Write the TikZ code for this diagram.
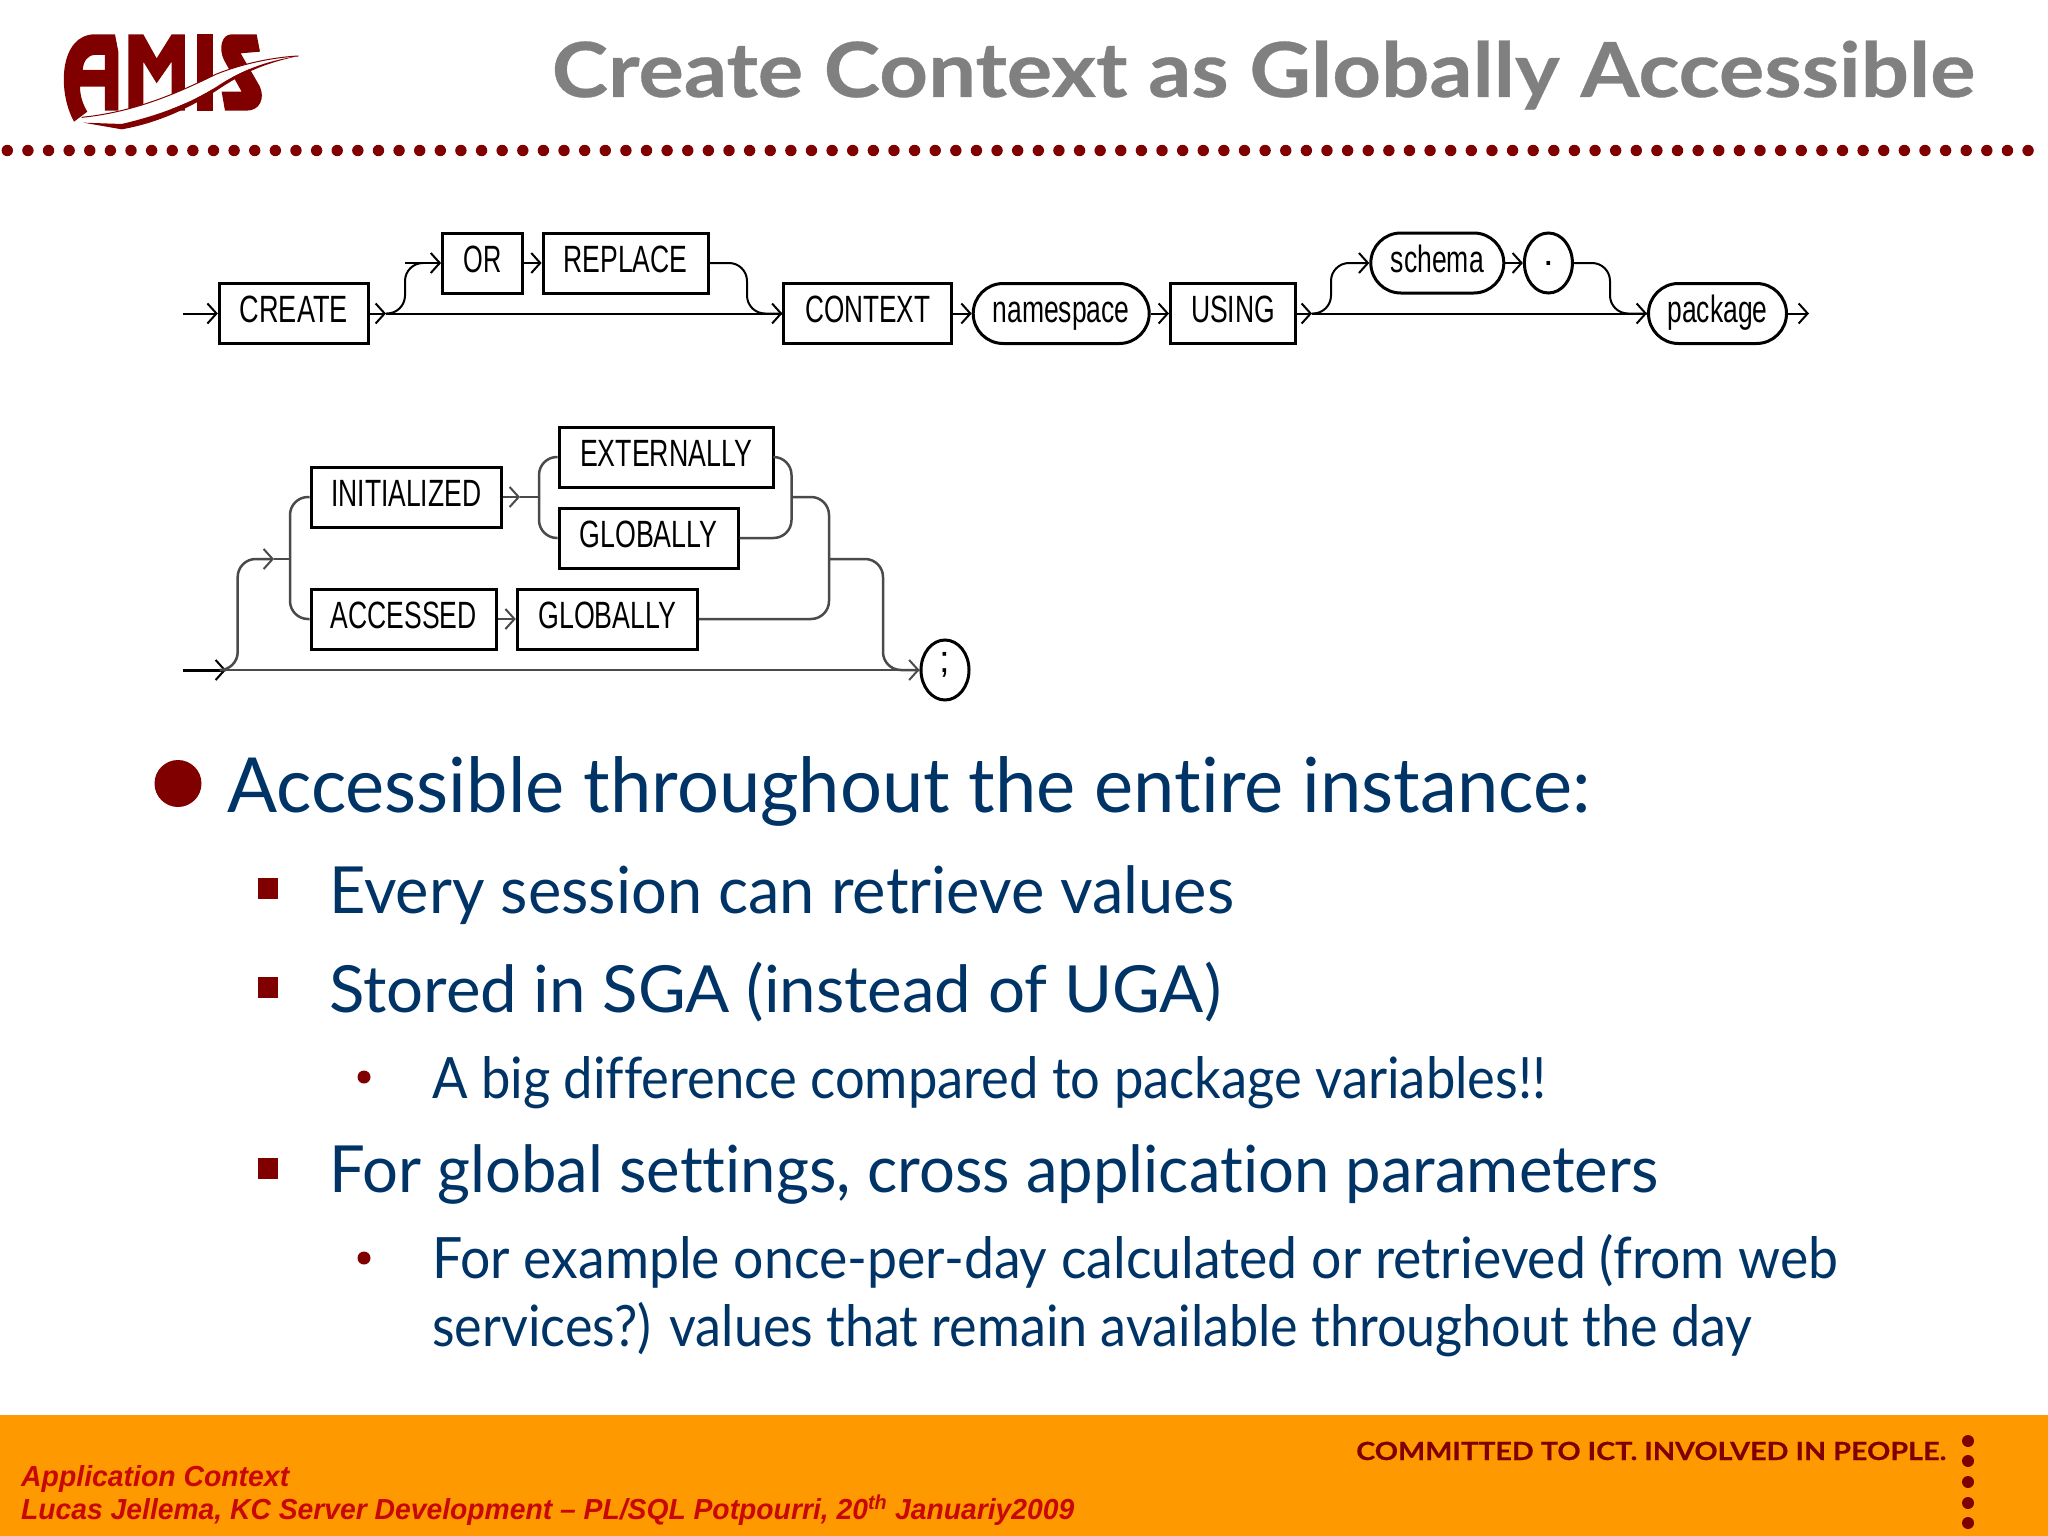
\documentclass[tikz,border=0pt]{standalone}
\usepackage{fontspec}
\usepackage{graphicx}
\usetikzlibrary{arrows.meta,shapes.misc,shapes.geometric}
\setmainfont{Lato}[Ligatures=NoCommon,BoldFeatures={FakeBold=0.4}]
\newfontfamily\diagfont{Liberation Sans}
\newfontfamily\footfont{Liberation Sans}
\definecolor{darkred}{HTML}{800000}
\definecolor{navy}{HTML}{003366}
\definecolor{titlegray}{HTML}{808080}
\definecolor{orangebar}{HTML}{FF9900}
\definecolor{footred}{HTML}{C80808}
\definecolor{rowtwo}{HTML}{4A4A4A}
\newcommand{\fitw}[2]{\resizebox{#1pt}{\height}{#2}}
\tikzset{
  x=1pt,y=-1pt,
  kw/.style={draw=black,line width=3pt,fill=white,inner sep=0pt,minimum height=60pt,font=\diagfont\fontsize{38}{38}\selectfont,text height=28pt,text depth=10pt,align=center},
  var/.style={kw,rounded rectangle},
  lit/.style={kw,ellipse,minimum width=48pt,text height=14pt,text depth=10pt},
  conn/.style={draw=black,line width=2pt,rounded corners=18pt},
  arr/.style={conn,-{Straight Barb[length=9pt,width=20pt,line width=2pt]}},
  conn2/.style={conn,draw=rowtwo,line width=2.5pt},
  arr2/.style={arr,draw=rowtwo,line width=2.5pt},
  lone/.style={anchor=base west,inner sep=0pt,text=navy,font=\fontsize{76}{76}\selectfont},
  ltwo/.style={anchor=base west,inner sep=0pt,text=navy,font=\fontsize{65}{65}\selectfont},
  lthree/.style={anchor=base west,inner sep=0pt,text=navy,font=\fontsize{57}{57}\selectfont},
}
\begin{document}
\begin{tikzpicture}
\useasboundingbox (0,0) rectangle (2048,1536);
\fill[white] (0,0) rectangle (2048,1536);
% logo
\begin{scope}[x=0.3333pt,y=-0.3333pt]
\fill[darkred,even odd rule] (222,365) .. controls (170,270) and (180,103) .. (285,103) -- (345,103) -- (355,155) -- (355,332) -- (315,332) -- (315,260) -- (240,260) .. controls (240,290) and (250,315) .. (262,335) -- cycle
 (248,210) -- (315,210) -- (315,165) -- (285,165) .. controls (262,165) and (250,185) .. (248,210) -- cycle;
\fill[darkred] (385,103) -- (430,103) -- (470,175) -- (515,103) -- (555,103) -- (555,332) -- (515,332) -- (515,185) -- (470,250) -- (430,185) -- (430,332) -- (385,332) -- cycle;
\fill[darkred] (590,103) rectangle (640,332);
\fill[darkred] (695,103) -- (770,103) -- (780,155) -- (722,160) -- (780,260) .. controls (795,295) and (780,332) .. (740,332) -- (675,332) -- (665,275) -- (725,275) -- (672,180) .. controls (655,145) and (665,103) .. (695,103) -- cycle;
\fill[white] (245,352) .. controls (420,335) and (560,265) .. (650,222) .. controls (730,190) and (820,172) .. (895,168) .. controls (820,180) and (740,200) .. (650,260) .. controls (570,310) and (480,345) .. (365,372) -- (250,368) -- cycle;
\fill[darkred] (250,368) -- (365,372) .. controls (480,345) and (570,310) .. (650,260) .. controls (740,200) and (820,180) .. (895,168) .. controls (820,185) and (750,205) .. (660,265) .. controls (570,325) and (470,370) .. (365,388) -- cycle;
\draw[darkred,line width=1pt] (245,352) .. controls (420,335) and (560,265) .. (650,222) .. controls (730,190) and (820,172) .. (895,168);
\end{scope}
% title
\node[anchor=base east,inner sep=0pt,text=titlegray,font=\bfseries\fontsize{76}{76}\selectfont] (title) at (1975,97) {\fitw{1423}{Create Context as Globally Accessible}};
% dotted rule
\foreach \k in {0,...,98} \fill[darkred] (7.3+20.62*\k,150.5) circle (5.7);
% diagram row 1
\node[kw,minimum width=149pt] (create) at (293.8,313.5) {\fitw{108}{CREATE}};
\node[kw,minimum width=80pt] (or) at (482.6,263) {\fitw{38}{OR}};
\node[kw,minimum width=165pt] (replace) at (625.6,263) {\fitw{124}{REPLACE}};
\node[kw,minimum width=168pt] (context) at (867.9,313.5) {\fitw{125}{CONTEXT}};
\node[var,minimum width=176pt] (namespace) at (1061.2,313.5) {\fitw{137}{namespace}};
\node[kw,minimum width=125pt] (using) at (1233,313.5) {\fitw{84}{USING}};
\node[var,minimum width=133pt] (schema) at (1437.3,263) {\fitw{93}{schema}};
\node[lit] (dot) at (1548.4,263) {.};
\node[var,minimum width=138pt] (package) at (1717.5,313.5) {\fitw{100}{package}};
\coordinate (s1) at (183,313.5);
\coordinate (e1) at (1809,313.5);
\coordinate (j1) at (386,313.5);
\coordinate (j3) at (1312,313.5);
\draw[arr] (s1) -- (create.west);
\draw[arr] (create.east) -- (j1);
\draw[arr] (j1) -- (context.west);
\draw[conn] (j1) -- (405,313.5) -- (405,263) -- (420,263);
\draw[arr] (405,263) -- (or.west);
\draw[arr] (or.east) -- (replace.west);
\draw[conn] (replace.east) -- (747,263) -- (747,313.5) -- (context.west);
\draw[arr] (context.east) -- (namespace.west);
\draw[arr] (namespace.east) -- (using.west);
\draw[arr] (using.east) -- (j3);
\draw[arr] (j3) -- (package.west);
\draw[arr] (j3) -- (1331,313.5) -- (1331,263) -- (schema.west);
\draw[arr] (schema.east) -- (dot.west);
\draw[conn] (dot.east) -- (1610,263) -- (1610,313.5) -- (package.west);
\draw[arr] (package.east) -- (e1);
% diagram row 2
\node[kw,minimum width=190pt] (init) at (406.2,497) {\fitw{150}{INITIALIZED}};
\node[kw,minimum width=214pt] (ext) at (666,457) {\fitw{172}{EXTERNALLY}};
\node[kw,minimum width=179pt] (globa) at (648.5,538) {\fitw{138}{GLOBALLY}};
\node[kw,minimum width=185pt] (acc) at (403.6,619) {\fitw{146}{ACCESSED}};
\node[kw,minimum width=180pt] (globb) at (607.3,619) {\fitw{138}{GLOBALLY}};
\node[lit] (semi) at (945,670) {;};
\coordinate (s2) at (183,670);
\coordinate (j5) at (226,670);
\coordinate (j6) at (290,559);
\coordinate (j7) at (520,497);
\coordinate (j8) at (539,497);
\coordinate (j9) at (791.5,497);
\coordinate (j10) at (829,559);
\draw[arr2,draw=black,line width=3pt] (s2) -- (j5);
\draw[arr2] (j5) -- (semi.west);
\draw[arr2] (j5) -- (237.7,670) -- (237.7,559) -- (274,559);
\draw[conn2] (274,559) -- (j6);
\draw[conn2] (init.west) -- (290,497) -- (290,619) -- (acc.west);
\draw[arr2] (init.east) -- (j7);
\draw[conn2] (j7) -- (j8);
\draw[conn2] (ext.west) -- (539,457) -- (539,538) -- (globa.west);
\draw[conn2] (ext.east) -- (791.5,457) -- (791.5,538) -- (globa.east);
\draw[conn2] (j9) -- (829,497) -- (829,559);
\draw[conn2] (globb.east) -- (829,619) -- (829,559);
\draw[arr2] (acc.east) -- (globb.west);
\draw[conn2] (j10) -- (883,559) -- (883,670) -- (semi.west);
% body text
\fill[darkred] (178,783.5) circle (23.5);
\node[lone] (t1) at (227,812) {\fitw{1363}{Accessible throughout the entire instance:}};
\fill[darkred] (257.5,878) rectangle ++(20,21);
\node[ltwo] (t2) at (329,913) {\fitw{905}{Every session can retrieve values}};
\fill[darkred] (257.5,977) rectangle ++(20,21);
\node[ltwo] (t3) at (329,1012) {\fitw{892}{Stored in SGA (instead of UGA)}};
\fill[darkred] (364,1077) circle (6.5);
\node[lthree] (t4) at (432,1098) {\fitw{1114}{A big difference compared to package variables!!}};
\fill[darkred] (257.5,1158) rectangle ++(20,21);
\node[ltwo] (t5) at (329,1192.5) {\fitw{1329}{For global settings, cross application parameters}};
\fill[darkred] (364,1258) circle (6.5);
\node[lthree] (t6) at (432,1278) {\fitw{1406}{For example once-per-day calculated or retrieved (from web}};
\node[lthree] (t7) at (432,1346) {\fitw{1320}{services?) values that remain available throughout the day}};
% footer
\fill[orangebar] (0,1415) rectangle (2048,1536);
\node[anchor=base west,inner sep=0pt,text=darkred,font=\bfseries\fontsize{25}{25}\selectfont] (slogan) at (1356,1460) {\fitw{590}{COMMITTED TO ICT. INVOLVED IN PEOPLE.}};
\foreach \yy in {1441,1461,1482,1503,1523} \fill[darkred] (1968,\yy) circle (6);
\node[anchor=base west,inner sep=0pt,text=footred,font=\footfont\bfseries\itshape\fontsize{29}{29}\selectfont] (fa) at (21,1486) {\fitw{268}{Application Context}};
\node[anchor=base west,inner sep=0pt,text=footred,font=\footfont\bfseries\itshape\fontsize{29}{29}\selectfont] (fb) at (21,1519) {\fitw{1053}{Lucas Jellema, KC Server Development – PL/SQL Potpourri, 20\textsuperscript{th} Januariy2009}};
\end{tikzpicture}
\end{document}
